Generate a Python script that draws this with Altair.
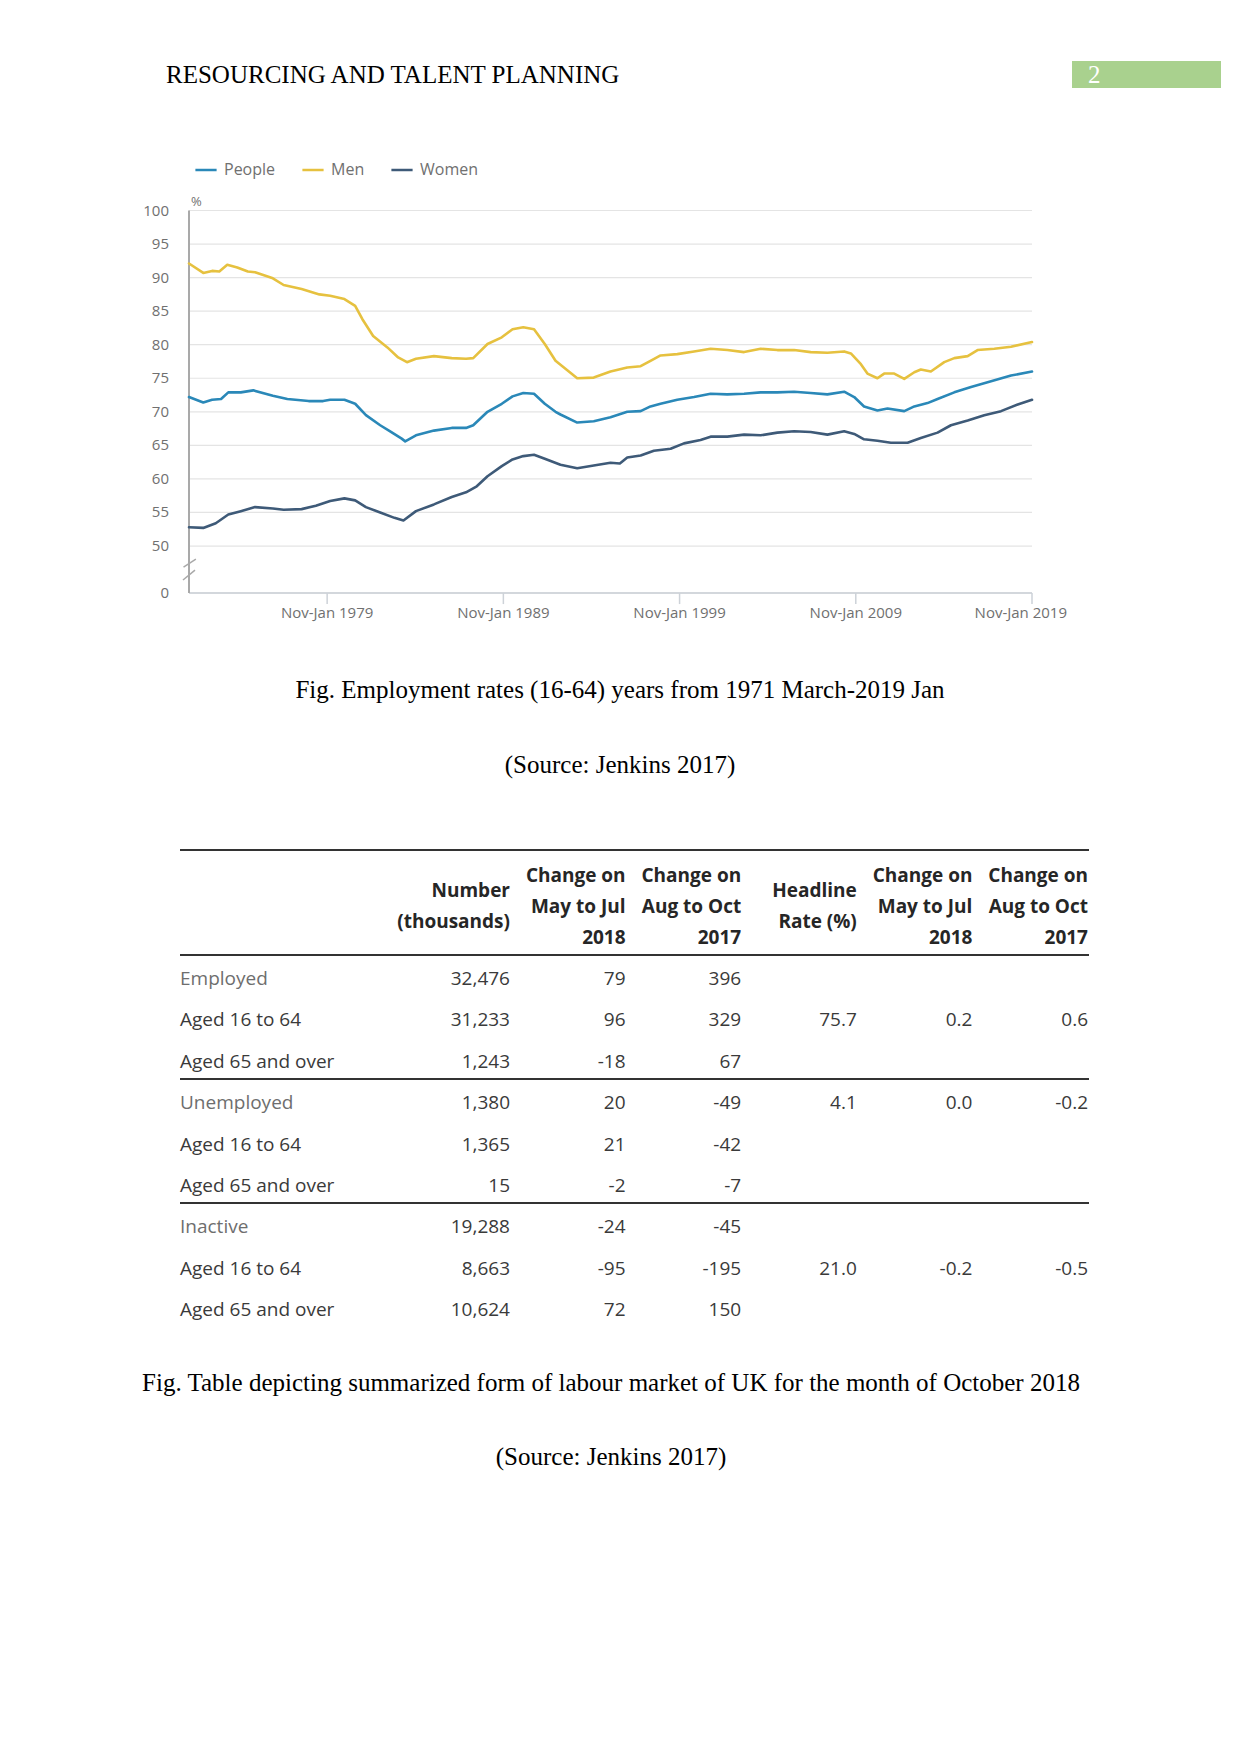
import altair as alt
import pandas as pd

# ---------------- data: employment rates (16-64), % ----------------
series_names = ["People", "Men", "Women"]
series_colors = ["#2a88b8", "#e6c13f", "#3e5a78"]

people_years = [1971.16, 1971.97, 1972.47, 1972.98, 1973.39, 1974.10, 1974.81, 1975.92, 1976.74, 1977.95,
                1978.77, 1979.17, 1979.98, 1980.59, 1981.20, 1982.01, 1982.62, 1983.23, 1983.43, 1984.04,
                1985.06, 1986.07, 1986.88, 1987.29, 1988.10, 1988.91, 1989.52, 1990.13, 1990.74, 1991.35,
                1991.96, 1992.24, 1993.19, 1994.13, 1995.08, 1996.03, 1996.79, 1997.35, 1997.92, 1998.87,
                1999.82, 2000.76, 2001.71, 2002.66, 2003.60, 2004.55, 2005.50, 2006.44, 2007.39, 2008.34,
                2008.91, 2009.47, 2010.23, 2010.80, 2011.75, 2012.32, 2013.07, 2013.64, 2014.59, 2015.54,
                2016.48, 2017.81, 2019.00]
people_rate = [72.2, 71.4, 71.8, 71.9, 72.9, 72.9, 73.2, 72.4, 71.9, 71.6,
               71.6, 71.8, 71.8, 71.2, 69.5, 68.0, 67.0, 66.0, 65.6, 66.5,
               67.2, 67.6, 67.6, 68.0, 70.0, 71.2, 72.3, 72.8, 72.7, 71.2,
               70.0, 69.6, 68.4, 68.6, 69.2, 70.0, 70.1, 70.8, 71.2, 71.8,
               72.2, 72.7, 72.6, 72.7, 72.9, 72.9, 73.0, 72.8, 72.6, 73.0,
               72.2, 70.8, 70.2, 70.5, 70.1, 70.8, 71.3, 71.9, 72.9, 73.7,
               74.4, 75.4, 76.0]

men_years = [1971.16, 1971.97, 1972.47, 1972.88, 1973.33, 1973.90, 1974.50, 1974.91, 1975.92, 1976.53,
             1977.55, 1978.56, 1979.17, 1979.98, 1980.59, 1981.00, 1981.61, 1982.42, 1983.03, 1983.53,
             1984.04, 1985.06, 1986.07, 1986.88, 1987.29, 1988.10, 1988.91, 1989.52, 1990.13, 1990.74,
             1991.35, 1991.96, 1992.77, 1993.19, 1994.13, 1995.08, 1996.03, 1996.79, 1997.35, 1997.92,
             1998.87, 1999.82, 2000.76, 2001.71, 2002.66, 2003.60, 2004.55, 2005.50, 2006.44, 2007.39,
             2008.34, 2008.72, 2009.29, 2009.66, 2010.23, 2010.61, 2011.18, 2011.75, 2012.32, 2012.69,
             2013.26, 2014.02, 2014.59, 2015.35, 2015.91, 2016.86, 2017.81, 2019.00]
men_rate = [92.1, 90.7, 91.0, 90.9, 91.9, 91.5, 90.9, 90.8, 89.9, 88.9,
            88.3, 87.5, 87.3, 86.8, 85.8, 83.8, 81.3, 79.6, 78.1, 77.4,
            77.9, 78.3, 78.0, 77.9, 78.0, 80.1, 81.1, 82.3, 82.6, 82.3,
            80.1, 77.6, 75.9, 75.0, 75.1, 76.0, 76.6, 76.8, 77.6, 78.4,
            78.6, 79.0, 79.4, 79.2, 78.9, 79.4, 79.2, 79.2, 78.9, 78.8,
            79.0, 78.7, 77.1, 75.7, 75.0, 75.7, 75.7, 74.9, 75.9, 76.3,
            76.0, 77.4, 78.0, 78.3, 79.2, 79.4, 79.7, 80.4]

women_years = [1971.16, 1971.97, 1972.68, 1973.39, 1974.10, 1974.91, 1975.92, 1976.53, 1977.55, 1978.36,
               1979.17, 1979.98, 1980.59, 1981.20, 1982.01, 1982.82, 1983.33, 1984.04, 1985.06, 1986.07,
               1986.88, 1987.49, 1988.10, 1988.91, 1989.52, 1990.13, 1990.74, 1991.35, 1992.24, 1993.19,
               1994.13, 1995.08, 1995.61, 1996.03, 1996.79, 1997.54, 1998.49, 1999.25, 2000.19, 2000.76,
               2001.71, 2002.66, 2003.60, 2004.55, 2005.50, 2006.44, 2007.39, 2008.34, 2008.91, 2009.47,
               2010.23, 2010.99, 2011.94, 2012.69, 2013.64, 2014.40, 2015.35, 2016.29, 2017.24, 2018.19,
               2019.00]
women_rate = [52.8, 52.7, 53.4, 54.7, 55.2, 55.8, 55.6, 55.4, 55.5, 56.0,
              56.7, 57.1, 56.8, 55.8, 55.0, 54.2, 53.8, 55.2, 56.2, 57.3,
              58.0, 58.9, 60.4, 61.9, 62.9, 63.4, 63.6, 63.0, 62.1, 61.6,
              62.0, 62.4, 62.3, 63.2, 63.5, 64.2, 64.5, 65.3, 65.8, 66.3,
              66.3, 66.6, 66.5, 66.9, 67.1, 67.0, 66.6, 67.1, 66.7, 65.9,
              65.7, 65.4, 65.4, 66.1, 66.9, 68.0, 68.7, 69.5, 70.1, 71.1,
              71.8]

x_tick_years = [1979, 1989, 1999, 2009, 2019]
y_tick_values = [50, 55, 60, 65, 70, 75, 80, 85, 90, 95, 100]

# ---------------- data: labour market table ----------------
table_rows = ["Employed", "Aged 16 to 64", "Aged 65 and over",
              "Unemployed", "Aged 16 to 64", "Aged 65 and over",
              "Inactive", "Aged 16 to 64", "Aged 65 and over"]
number_thousands = [32476, 31233, 1243, 1380, 1365, 15, 19288, 8663, 10624]
chg_may_jul_2018 = [79, 96, -18, 20, 21, -2, -24, -95, 72]
chg_aug_oct_2017 = [396, 329, 67, -49, -42, -7, -45, -195, 150]
headline_rate = [None, 75.7, None, 4.1, None, None, None, 21.0, None]
rate_chg_may_jul_2018 = [None, 0.2, None, 0.0, None, None, None, -0.2, None]
rate_chg_aug_oct_2017 = [None, 0.6, None, -0.2, None, None, None, -0.5, None]
table_headers = ["Number\n(thousands)", "Change on\nMay to Jul\n2018", "Change on\nAug to Oct\n2017",
                 "Headline\nRate (%)", "Change on\nMay to Jul\n2018", "Change on\nAug to Oct\n2017"]

page_header = "RESOURCING AND TALENT PLANNING"
page_number = "2"
caption_chart = "Fig. Employment rates (16-64) years from 1971 March-2019 Jan"
caption_table = "Fig. Table depicting summarized form of labour market of UK for the month of October 2018"
source_text = "(Source: Jenkins 2017)"

# ---------------- layout ----------------
W, H = 1225, 1480


def px(v):
    return v - 8  # page pixel -> view pixel


X0, X1 = 1971.16, 2019.0
Y0, Y1 = 43.0, 100.0
xs = alt.Scale(domain=[X0, X1], range=[px(189), px(1032)], nice=False, zero=False)
ys = alt.Scale(domain=[Y0, Y1], range=[px(593), px(210.5)], nice=False, zero=False)
GREY = "#707070"
SERIF = "Liberation Serif"
SANS = "Open Sans"

line_df = pd.concat([
    pd.DataFrame({"year": people_years, "value": people_rate, "series": "People"}),
    pd.DataFrame({"year": men_years, "value": men_rate, "series": "Men"}),
    pd.DataFrame({"year": women_years, "value": women_rate, "series": "Women"}),
], ignore_index=True)

grid = alt.Chart(pd.DataFrame({"value": y_tick_values})).mark_rule(color="#e4e4e4", strokeWidth=1.2).encode(
    y=alt.Y("value:Q", scale=ys, axis=None),
    x=alt.XDatum(X0, scale=xs, axis=None),
    x2=alt.X2Datum(X1),
)
x_domain = alt.Chart(pd.DataFrame({"v": [Y0]})).mark_rule(color="#d3d7dc", strokeWidth=2).encode(
    y=alt.Y("v:Q", scale=ys, axis=None),
    x=alt.XDatum(X0, scale=xs, axis=None),
    x2=alt.X2Datum(X1),
)
x_ticks = alt.Chart(pd.DataFrame({"year": x_tick_years})).mark_rule(color="#cdd2d8", strokeWidth=1.5).encode(
    x=alt.X("year:Q", scale=xs, axis=None),
    y=alt.YDatum(Y0, scale=ys, axis=None),
    y2=alt.Y2Datum(Y0 - 1.65),
)
xlab_df = pd.DataFrame({"year": x_tick_years, "label": ["Nov-Jan %d" % y for y in x_tick_years]})
x_labels = alt.Chart(xlab_df.iloc[:-1]).mark_text(
    align="center", baseline="middle", dy=20, font=SANS, fontSize=15, color=GREY).encode(
    x=alt.X("year:Q", scale=xs, axis=None), y=alt.YDatum(Y0, scale=ys, axis=None), text="label:N")
x_label_last = alt.Chart(xlab_df.iloc[-1:]).mark_text(
    align="right", baseline="middle", dx=35, dy=20, font=SANS, fontSize=15, color=GREY).encode(
    x=alt.X("year:Q", scale=xs, axis=None), y=alt.YDatum(Y0, scale=ys, axis=None), text="label:N")
ylab_df = pd.DataFrame({"value": [Y0] + y_tick_values,
                        "label": ["0"] + [str(v) for v in y_tick_values]})
y_labels = alt.Chart(ylab_df).mark_text(
    align="right", baseline="middle", dx=-20, font=SANS, fontSize=15, color=GREY).encode(
    x=alt.XDatum(X0, scale=xs, axis=None), y=alt.Y("value:Q", scale=ys, axis=None), text="label:N")
y_domain = alt.Chart(pd.DataFrame({"lo": [Y0, 46.2], "hi": [47.95, Y1]})).mark_rule(
    color="#a9a9a9", strokeWidth=2).encode(
    y=alt.Y("lo:Q", scale=ys, axis=None),
    y2="hi:Q",
    x=alt.XDatum(X0, scale=xs, axis=None),
)
breaks = alt.Chart(pd.DataFrame({"xa": [1970.85, 1970.82], "xb": [1971.55, 1971.50],
                                 "ya": [46.87, 44.93], "yb": [48.06, 46.42]})).mark_rule(
    color="#a9a9a9", strokeWidth=1.5).encode(
    x=alt.X("xa:Q", scale=xs, axis=None), x2="xb:Q",
    y=alt.Y("ya:Q", scale=ys, axis=None), y2="yb:Q",
)
lines = alt.Chart(line_df).mark_line(strokeWidth=2.6, strokeJoin="round", strokeCap="round").encode(
    x=alt.X("year:Q", scale=xs, axis=None),
    y=alt.Y("value:Q", scale=ys, axis=None),
    color=alt.Color("series:N", scale=alt.Scale(domain=series_names, range=series_colors),
                    legend=alt.Legend(orient="none", legendX=186, legendY=150, direction="horizontal",
                                      title=None, symbolType="stroke", symbolSize=450,
                                      symbolStrokeWidth=2.5, labelFont=SANS, labelFontSize=16,
                                      labelColor=GREY, labelOffset=6, columnPadding=21, padding=0)),
)
pct = alt.Chart(pd.DataFrame({"t": ["%"]})).mark_text(
    align="left", baseline="middle", dx=2, dy=-9, font=SANS, fontSize=13, color=GREY).encode(
    x=alt.XDatum(X0, scale=xs, axis=None), y=alt.YDatum(Y1, scale=ys, axis=None), text="t:N")

line_part = alt.layer(grid, x_domain, x_ticks, x_labels, x_label_last, y_labels, y_domain, breaks, lines, pct)

# ---------------- table ----------------
col_keys = ["num", "c1", "c2", "rate", "r1", "r2"]
colscale = alt.Scale(type="point", domain=col_keys, range=[px(510), px(1088)], padding=0)
rowscale = alt.Scale(type="point", domain=list(range(len(table_rows))), range=[px(979), px(1310)], padding=0)


def fmt_int(v):
    return f"{v:,}"


def fmt_f(v):
    return "" if v is None else f"{v:.1f}"


cells = []
for i in range(len(table_rows)):
    vals = [fmt_int(number_thousands[i]), fmt_int(chg_may_jul_2018[i]), fmt_int(chg_aug_oct_2017[i]),
            fmt_f(headline_rate[i]), fmt_f(rate_chg_may_jul_2018[i]), fmt_f(rate_chg_aug_oct_2017[i])]
    for k, t in zip(col_keys, vals):
        if t:
            cells.append({"row": i, "col": k, "txt": t})
cell_df = pd.DataFrame(cells)
label_df = pd.DataFrame({"row": list(range(len(table_rows))), "label": table_rows})
header_df = pd.DataFrame({"col": col_keys, "hdr": table_headers})
header_df["nlines"] = header_df["hdr"].str.count("\n") + 1

cell_layer = alt.Chart(cell_df).mark_text(align="right", baseline="middle", font=SANS, fontSize=19,
                                          color="#3a3a3a").encode(
    x=alt.X("col:N", scale=colscale, axis=None),
    y=alt.Y("row:O", scale=rowscale, axis=None),
    text="txt:N",
)
label_layer = alt.Chart(label_df).mark_text(align="left", baseline="middle", font=SANS, fontSize=19).encode(
    x=alt.value(px(180)),
    y=alt.Y("row:O", scale=rowscale, axis=None),
    text="label:N",
    color=alt.condition("datum.row % 3 == 0", alt.value("#6e6e6e"), alt.value("#3a3a3a")),
)


def header_layer(n, first_line_y):
    return alt.Chart(header_df[header_df["nlines"] == n]).mark_text(
        align="right", baseline="middle", font=SANS, fontSize=19, fontWeight="bold", color="#262626",
        lineBreak="\n", lineHeight=31).encode(
        x=alt.X("col:N", scale=colscale, axis=None),
        y=alt.value(px(first_line_y)),
        text="hdr:N",
    )


table_part = alt.layer(cell_layer, label_layer, header_layer(3, 876), header_layer(2, 891))

# ---------------- page decorations ----------------
rule_ys = [850, 955, 1079, 1203]
table_rules = alt.Chart(pd.DataFrame({"ry": [px(v) for v in rule_ys]})).mark_rule(
    color="#333333", strokeWidth=2).encode(
    y=alt.Y("ry:Q", scale=None), x=alt.value(px(180)), x2=alt.value(px(1089)))


def text_layer(txt, x, y, align="center", size=25, color="#000000", font=SERIF):
    return alt.Chart(pd.DataFrame({"t": [txt]})).mark_text(
        align=align, baseline="alphabetic", font=font, fontSize=size, color=color).encode(
        x=alt.value(px(x)), y=alt.value(px(y)), text="t:N")


green_box = alt.Chart(pd.DataFrame({"a": [0]})).mark_rect(color="#a9d18e").encode(
    x=alt.value(px(1072)), x2=alt.value(px(1221)), y=alt.value(px(61)), y2=alt.value(px(88)))

deco = [
    table_rules,
    green_box,
    text_layer(page_header, 166, 83.3, align="left"),
    text_layer(page_number, 1088, 82.5, align="left", color="#ffffff"),
    text_layer(caption_chart, 620, 698),
    text_layer(source_text, 620, 773),
    text_layer(caption_table, 611, 1391),
    text_layer(source_text, 611, 1465),
]

chart = alt.layer(line_part, table_part, *deco).resolve_scale(
    x="independent", y="independent"
).properties(
    width=W, height=H, autosize=alt.AutoSizeParams(type="none"), padding=0
).configure_view(stroke=None)

chart.save("out.html", embed_options={"renderer": "svg", "actions": False})
